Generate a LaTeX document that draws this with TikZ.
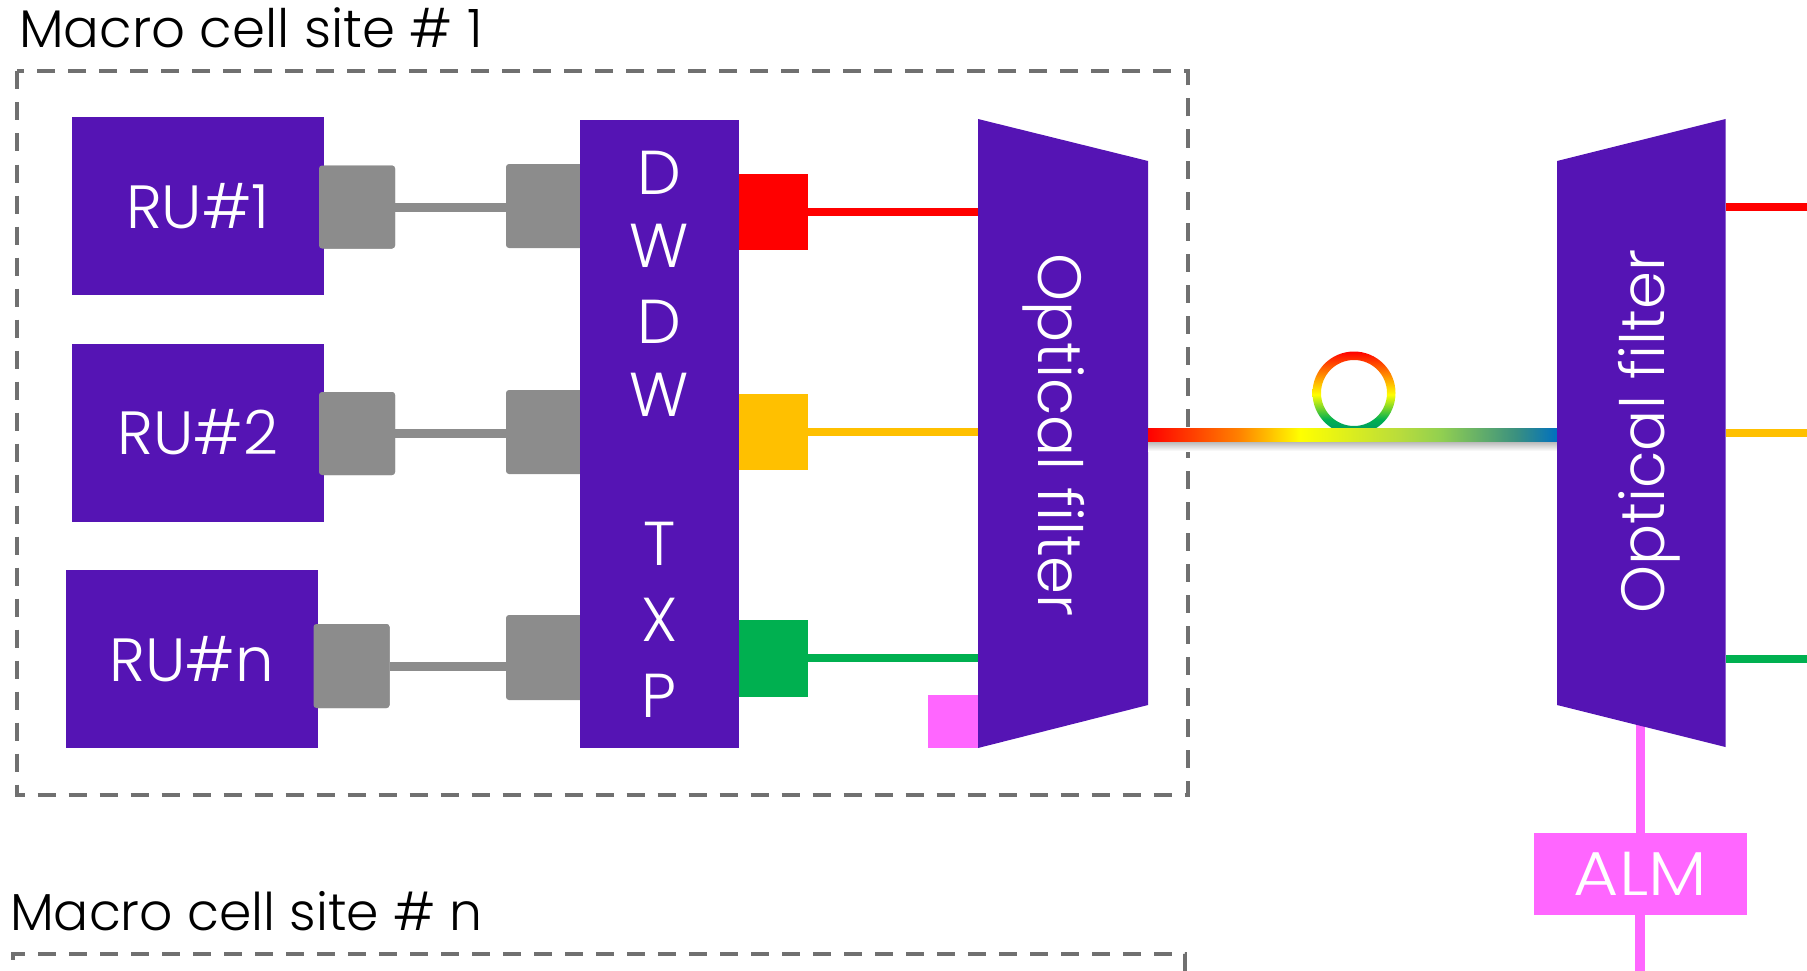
\documentclass[tikz,border=0pt]{standalone}
\usepackage{fontspec}
\setmainfont{Poppins Light}
\usetikzlibrary{calc}
\definecolor{bpurple}{HTML}{5514B4}
\definecolor{bgray}{HTML}{8C8C8C}
\definecolor{bpink}{HTML}{FF66FF}
\definecolor{byellow}{HTML}{FFC000}
\definecolor{bgreen}{HTML}{00B050}
\definecolor{bdash}{HTML}{707070}
\definecolor{fo}{HTML}{FF8000}
\definecolor{fa}{HTML}{B8DC3C}
\definecolor{fb}{HTML}{92D050}
\definecolor{fc}{HTML}{3A9080}
\definecolor{fd}{HTML}{0070C0}
\definecolor{ft}{HTML}{00906A}
\pgfdeclarehorizontalshading{fiber}{100bp}{color(0bp)=(red);color(25bp)=(red);color(36bp)=(fo);color(43.6bp)=(yellow);color(55.8bp)=(fa);color(60.7bp)=(fb);color(70bp)=(fc);color(75bp)=(fd);color(100bp)=(fd)}
\pgfdeclareverticalshading{loopring}{100bp}{color(0bp)=(ft);color(25bp)=(ft);color(34bp)=(bgreen);color(49bp)=(yellow);color(62bp)=(fo);color(75bp)=(red);color(100bp)=(red)}
\tikzset{
  x=1pt,y=-1pt,
  purplebox/.style={rectangle,fill=bpurple,text=white,inner sep=0pt,outer sep=0pt,font=\fontsize{61}{61}\selectfont},
  graybox/.style={rectangle,rounded corners=3pt,fill=bgray,inner sep=0pt,outer sep=0pt},
  colorbox/.style={rectangle,inner sep=0pt,outer sep=0pt},
  sitebox/.style={draw=bdash,line width=4pt,dash pattern=on 18pt off 13pt},
  cable/.style={line width=9pt,bgray},
  wave/.style={line width=7.5pt},
  filter/.style={fill=bpurple},
  filterlabel/.style={text=white,inner sep=0pt,font=\fontsize{61}{61}\selectfont},
  sitelabel/.style={anchor=base west,inner sep=0pt,text=black},
  stack/.style={text=white,inner sep=0pt,font=\fontsize{62}{62}\selectfont},
}
\begin{document}
\begin{tikzpicture}
\useasboundingbox (0,0) rectangle (1807,971);
% site boxes
\draw[sitebox] (17,71.5) rectangle (1188,795);
\coordinate (s2a) at (1185,971);
\coordinate (s2b) at (1185,953.5);
\coordinate (s2c) at (13,953.5);
\coordinate (s2d) at (13,971);
\draw[sitebox] (s2a) -- (s2b) -- (s2c) -- (s2d);
\node[sitelabel,font=\fontsize{53}{53}\selectfont] (t1) at (19,48) {Macro cell site \# 1};
\node[sitelabel,font=\fontsize{52}{52}\selectfont] (t2) at (10,930) {Macro cell site \# n};
% gray ports and cables
\node[graybox,minimum width=76pt,minimum height=83pt] (g1a) at (357,207) {};
\node[graybox,minimum width=80pt,minimum height=84pt] (g1b) at (546,206) {};
\node[graybox,minimum width=76pt,minimum height=83pt] (g2a) at (357,433.5) {};
\node[graybox,minimum width=80pt,minimum height=84pt] (g2b) at (546,432) {};
\node[graybox,minimum width=76pt,minimum height=84pt] (g3a) at (351.5,666) {};
\node[graybox,minimum width=80pt,minimum height=85pt] (g3b) at (546,657.5) {};
\draw[cable] (g1a.east) -- (g1a.east -| g1b.west);
\draw[cable] (g2a.east) -- (g2a.east -| g2b.west);
\draw[cable] (g3a.east) -- (g3a.east -| g3b.west);
% radio units
\node[purplebox,minimum width=252.5pt,minimum height=178pt] (ru1) at (197.8,206) {RU\#1};
\node[purplebox,minimum width=252.5pt,minimum height=178pt] (ru2) at (197.8,432.5) {RU\#2};
\node[purplebox,minimum width=252.5pt,minimum height=178pt] (ru3) at (192,659) {RU\#n};
\node[graybox,minimum width=76pt,minimum height=83pt] at (g1a) {};
\node[graybox,minimum width=76pt,minimum height=83pt] at (g2a) {};
\node[graybox,minimum width=76pt,minimum height=84pt] at (g3a) {};
% transponder
\node[purplebox,minimum width=158.7pt,minimum height=628pt] (dw) at (659.3,434) {};
\foreach \ch/\yy in {D/173,W/246,D/321.5,W/395,T/544,X/620,P/696}{
  \node[stack] at (659.3,\yy) {\ch};
}
% colour squares
\node[colorbox,fill=red,minimum width=69.5pt,minimum height=76pt] (cr) at (773.5,212) {};
\node[colorbox,fill=byellow,minimum width=69.5pt,minimum height=76pt] (cy) at (773.5,432) {};
\node[colorbox,fill=bgreen,minimum width=69.5pt,minimum height=77pt] (cg) at (773.5,658.5) {};
\node[colorbox,fill=bpink,minimum width=50pt,minimum height=53pt] (pk) at (953,721.5) {};
% left filter
\coordinate (lf1) at (978,119);
\coordinate (lf2) at (1148,161);
\coordinate (lf3) at (1148,705);
\coordinate (lf4) at (978,748);
\coordinate (ler) at (978,212);
\coordinate (ley) at (978,432);
\coordinate (leg) at (978,658);
\draw[wave,red] (cr.east) -- (ler);
\draw[wave,byellow] (cy.east) -- (ley);
\draw[wave,bgreen] (cg.east |- leg) -- (leg);
\fill[filter] (lf1) -- (lf2) -- (lf3) -- (lf4) -- cycle;
\node[filterlabel,rotate=-90] (lft) at (1054,435) {Optical filter};
% fibre
\coordinate (rf1) at (1557,161);
\coordinate (rf2) at (1725.5,119);
\coordinate (rf3) at (1725.5,747);
\coordinate (rf4) at (1557,705);
\coordinate (loopc) at (1354,393);
\shade[shading=loopring,even odd rule] (loopc) circle[radius=41.5] (loopc) circle[radius=33];
\shade[top color=black!30,bottom color=white,shading angle=0] (1148,441) rectangle (1557,451);
\shade[shading=fiber] (lf2 |- 0,428.5) rectangle (rf1 |- 0,441.5);
% right filter
\coordinate (rer) at (1725.5,207);
\coordinate (rey) at (1725.5,433);
\coordinate (reg) at (1725.5,659);
\coordinate (oer) at (1807,207);
\coordinate (oey) at (1807,433);
\coordinate (oeg) at (1807,659);
\draw[wave,red] (rer) -- (oer);
\draw[wave,byellow] (rey) -- (oey);
\draw[wave,bgreen] (reg) -- (oeg);
% alarm
\node[colorbox,fill=bpink,text=white,minimum width=212.5pt,minimum height=82pt,font=\fontsize{62}{62}\selectfont] (alm) at (1640.3,874) {\scalebox{1.12}[1]{ALM}};
\coordinate (almtop) at (1640.7,720);
\coordinate (almbot) at (1640,971);
\draw[line width=9pt,bpink] (almtop) -- (alm.north -| almtop);
\draw[line width=10pt,bpink] (alm.south -| almbot) -- (almbot);
\fill[filter] (rf1) -- (rf2) -- (rf3) -- (rf4) -- cycle;
\node[filterlabel,rotate=90] (rft) at (1649,431.5) {Optical filter};
\end{tikzpicture}
\end{document}
